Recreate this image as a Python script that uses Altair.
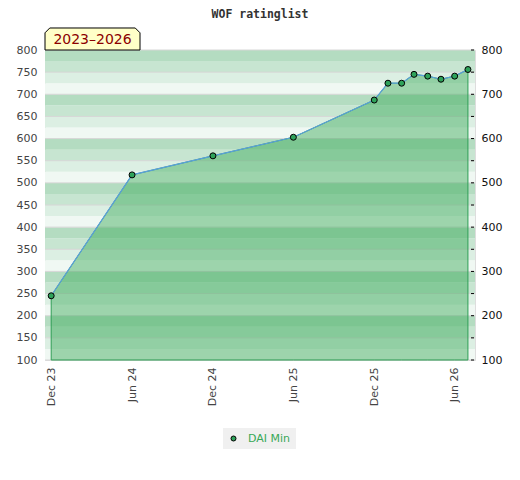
import altair as alt
import pandas as pd

# ---- data ----
dates = ["2023-12-01", "2024-06-01", "2024-12-01", "2025-06-01", "2025-12-01",
         "2026-01-01", "2026-02-01", "2026-03-01", "2026-04-01", "2026-05-01",
         "2026-06-01", "2026-07-01"]
ratings = [245, 518, 561, 603, 687, 725, 725, 745, 741, 734, 741, 756]
series_name = "DAI Min"
x_tick_dates = ["2023-12-01", "2024-06-01", "2024-12-01", "2025-06-01",
                "2025-12-01", "2026-06-01"]
left_ticks = list(range(100, 801, 50))
right_labels = list(range(100, 801, 100))
band_lo = list(range(100, 800, 25))
title_text = "WOF ratinglist"
period_text = "2023–2026"

df = pd.DataFrame({"date": pd.to_datetime(dates), "rating": ratings,
                   "series": series_name})
bands = pd.DataFrame({"lo": band_lo, "hi": [b + 25 for b in band_lo],
                      "shade": [(b // 25) % 4 for b in band_lo]})
grid = pd.DataFrame({"v": left_ticks})

W, H = 430, 310
xdom = [alt.DateTime(year=2023, month=11, date=17),
        alt.DateTime(year=2026, month=7, date=17)]
xscale = alt.Scale(domain=xdom)
yscale = alt.Scale(domain=[100, 800], nice=False, zero=False)
xaxis = alt.Axis(values=[alt.DateTime(year=int(d[:4]), month=int(d[5:7]), date=1)
                         for d in x_tick_dates],
                 format="%b %y", labelAngle=-90, title=None, ticks=False,
                 domain=False, grid=False, labelColor="#444",
                 labelFontSize=11, labelFont="DejaVu Sans", labelPadding=7)

band_layer = alt.Chart(bands).mark_rect().encode(
    x=alt.value(0), x2=alt.value(W),
    y=alt.Y("lo:Q", scale=yscale,
            axis=alt.Axis(values=left_ticks, title=None, ticks=False, domain=False,
                          grid=False, labelColor="#444", labelFontSize=11,
                          labelFont="DejaVu Sans", labelPadding=8)),
    y2="hi:Q",
    color=alt.Color("shade:O", legend=None,
                    scale=alt.Scale(domain=[0, 1, 2, 3],
                                    range=["#f0f8f3", "#dcefe3", "#c7e5d1", "#b4dcc1"])),
)

grid_layer = alt.Chart(grid).mark_rule(color="#d6d6d6", strokeWidth=1).encode(
    x=alt.value(0), x2=alt.value(W),
    y=alt.Y("v:Q", scale=yscale, axis=None),
)

area = alt.Chart(df).mark_area(color="#38a857", opacity=0.45).encode(
    x=alt.X("date:T", scale=xscale, axis=xaxis),
    y=alt.Y("rating:Q", scale=yscale, axis=None),
    y2=alt.datum(100),
)

area_edge = alt.Chart(df).mark_area(fillOpacity=0, stroke="#2e9e55",
                                    strokeWidth=1).encode(
    x=alt.X("date:T", scale=xscale, axis=xaxis),
    y=alt.Y("rating:Q", scale=yscale, axis=None),
    y2=alt.datum(100),
)

line = alt.Chart(df).mark_line(color="#5b9fdc", strokeWidth=1.2).encode(
    x=alt.X("date:T", scale=xscale, axis=xaxis),
    y=alt.Y("rating:Q", scale=yscale, axis=None),
)

points = alt.Chart(df).mark_point(filled=True, size=36, stroke="black",
                                  strokeWidth=1, opacity=1).encode(
    x=alt.X("date:T", scale=xscale, axis=xaxis),
    y=alt.Y("rating:Q", scale=yscale,
            axis=alt.Axis(orient="right", values=right_labels, title=None, ticks=False,
                          domain=False, grid=False, labelColor="#111",
                          labelFontSize=11, labelFont="DejaVu Sans", labelPadding=6)),
    fill=alt.Fill("series:N",
                  scale=alt.Scale(domain=[series_name], range=["#2ea25a"]),
                  legend=alt.Legend(title=None, orient="none", legendX=178, legendY=378,
                                    fillColor="#f0f0f0", padding=5,
                                    symbolStrokeColor="black", symbolStrokeWidth=1,
                                    symbolSize=25, symbolType="circle",
                                    labelColor="#38a857", labelFontSize=11,
                                    labelFont="DejaVu Sans", labelOffset=9)),
)

right_ticks = alt.Chart(grid).mark_rule(color="black", strokeWidth=1).encode(
    x=alt.value(W - 4), x2=alt.value(W - 1),
    y=alt.Y("v:Q", scale=yscale, axis=None),
)

title = alt.Chart(pd.DataFrame({"t": [title_text]})).mark_text(
    font="DejaVu Sans Mono", fontSize=11.5, fontWeight="bold", color="#333",
    align="center", baseline="alphabetic").encode(
    x=alt.value(W / 2), y=alt.value(-32), text="t:N")

box_path = ("M-1,0.2316 L1,0.2316 L1,-0.13 L0.9,-0.2316 L-0.9,-0.2316 L-1,-0.13 Z")
box = alt.Chart(pd.DataFrame({"t": [period_text]})).mark_point(
    shape=box_path, size=95 * 95, filled=True, fill="#ffffc8", stroke="black",
    strokeWidth=1, opacity=1).encode(
    x=alt.value(47.5), y=alt.value(-11))

box_text = alt.Chart(pd.DataFrame({"t": [period_text]})).mark_text(
    font="DejaVu Sans", fontSize=14, color="#8b0000", align="center",
    baseline="middle").encode(
    x=alt.value(47.5), y=alt.value(-10), text="t:N")

chart = alt.layer(band_layer, grid_layer, area, area_edge, line, points,
                  right_ticks, title, box, box_text).resolve_scale(
    y="shared", fill="independent", color="independent").resolve_axis(
    y="independent").properties(
    width=W, height=H, autosize=alt.AutoSizeParams(type="none"),
    padding={"left": 37, "top": 42, "right": 35, "bottom": 110},
).configure_view(stroke="#d4d4d4", strokeWidth=1).configure(background="white")

chart.save("out.html", embed_options={"renderer": "svg", "actions": False})
